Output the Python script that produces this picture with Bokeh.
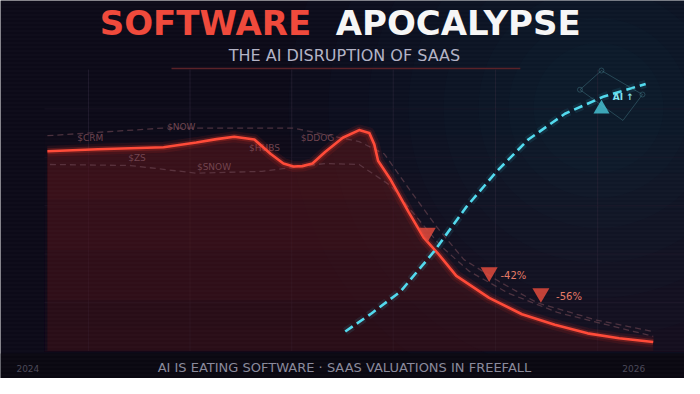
from bokeh.plotting import figure
from bokeh.models import Range1d
from bokeh.embed import file_html
from bokeh.resources import INLINE
from bokeh.core.properties import value

# ---------------- data (month index 0 = Jan 2024, 24 = end 2025; value = index) ----------------
saas_month = [0.0, 2.0, 4.6, 5.9, 6.7, 7.4, 8.2, 8.85, 9.35, 9.75, 10.1, 10.5, 11.0, 11.7, 12.35, 12.75,
              12.95, 13.1, 13.6, 14.3, 14.9, 15.45, 16.2, 17.5, 18.8, 20.1, 21.4, 22.65, 24.0]
saas_value = [99.0, 100.0, 101.0, 103.3, 105.0, 106.2, 104.8, 97.6, 92.9, 91.4, 91.6, 92.9, 98.6, 105.7, 109.5, 108.1,
              102.4, 94.3, 84.8, 69.0, 56.2, 48.6, 37.1, 26.2, 18.1, 12.9, 8.6, 6.2, 4.3]

ai_month = [11.8, 12.85, 14.0, 15.3, 16.6, 17.8, 19.05, 20.5, 22.05, 23.7]
ai_value = [9.5, 18.6, 29.5, 49.0, 71.4, 89.0, 104.8, 117.6, 126.2, 132.4]

ghost_a_month = [0.0, 4.6, 9.75, 12.35, 13.35, 14.4, 15.45, 16.5, 17.9, 19.4, 21.75, 24.0]
ghost_a_value = [106.7, 110.5, 110.5, 103.8, 97.6, 79.0, 61.0, 45.2, 34.3, 23.8, 15.2, 9.5]

ghost_b_month = [0.1, 3.3, 5.9, 8.5, 11.0, 12.35, 13.6, 14.6, 15.55, 16.7, 18.25, 20.2, 22.15, 24.0]
ghost_b_value = [92.4, 91.9, 88.1, 89.0, 92.9, 92.4, 81.9, 66.7, 52.4, 39.5, 28.6, 19.0, 12.9, 7.1]

ticker_labels = ["$CRM", "$NOW", "$ZS", "$SNOW", "$HUBS", "$DDOG"]
ticker_month = [1.7, 5.3, 3.55, 6.6, 8.6, 10.7]
ticker_value = [105.7, 111.0, 95.7, 91.4, 100.5, 105.7]

drop_month = [15.05, 17.5, 19.55]
drop_value = [58.6, 39.0, 28.6]
drop_labels = ["-42%", "-56%"]
drop_label_month = [17.95, 20.15]
drop_label_value = [37.1, 26.7]

ai_mark_month = [21.95]
ai_mark_value = [120.0]
ai_label = ["AI ↑"]
ai_label_month = [22.4]
ai_label_value = [125.7]

year_labels = ["2024", "2026"]

grid_months = [1.63, 5.65, 9.68, 13.7, 17.75, 21.8]
grid_values = [24, 48, 72, 96, 120]


# reference-pixel helpers for annotations
def mx(px):
    return (px - 48) * 24 / 620


def vy(py):
    return (365 - py) / 2.1


X0, X1 = mx(0), mx(700)
Y0, Y1 = vy(394), vy(0)

p = figure(width=684, height=378, output_backend="svg", toolbar_location=None,
           x_range=Range1d(X0, X1), y_range=Range1d(Y0, Y1), min_border=0,
           background_fill_color="#0c0a18", border_fill_color="#0c0a18")
p.axis.visible = False
p.grid.visible = False
p.outline_line_color = None

# background tints (layered soft bands)
for top in [140, 180, 220, 260, 300, 340]:
    p.quad(left=[mx(45)], right=[X1], bottom=[vy(366)], top=[vy(top)], fill_color="#2e0e1a",
           fill_alpha=0.07, line_color=None)
for s in [620, 540, 460, 380, 310, 240, 180, 130]:
    p.scatter([mx(612)], [vy(112)], size=s, fill_color="#1f5e70", fill_alpha=0.035, line_color=None)

# grid
p.segment(x0=grid_months, y0=[vy(365)] * len(grid_months), x1=grid_months, y1=[vy(72)] * len(grid_months),
          line_color="#2c2438", line_alpha=0.6, line_width=1)
p.segment(x0=[mx(45)] * len(grid_values), y0=grid_values, x1=[X1] * len(grid_values), y1=grid_values,
          line_color="#241c2e", line_alpha=0.5, line_width=1)

# fill under saas line (layered for a vertical fade)
p.varea(x=saas_month, y1=[0] * len(saas_month), y2=saas_value, fill_color="#3a1018", fill_alpha=0.55)
for lvl in [25, 50, 75]:
    p.varea(x=saas_month, y1=[min(lvl, v) for v in saas_value], y2=saas_value,
            fill_color="#5a1a20", fill_alpha=0.16)

# ghost ticker lines
p.line(ghost_a_month, ghost_a_value, line_color="#6a4450", line_width=1.3, line_dash="6 4", line_alpha=0.65)
p.line(ghost_b_month, ghost_b_value, line_color="#6a4450", line_width=1.3, line_dash="6 4", line_alpha=0.65)
p.text(ticker_month, ticker_value, text=ticker_labels, text_color="#7a4a55", text_font=value("DejaVu Sans"),
       text_font_size="9px", text_align="center", text_baseline="middle", text_alpha=0.9)

# saas line with glow
p.line(saas_month, saas_value, line_color="#ff3a2a", line_width=11, line_alpha=0.09, line_join="round")
p.line(saas_month, saas_value, line_color="#ff3a2a", line_width=6, line_alpha=0.2, line_join="round")
p.line(saas_month, saas_value, line_color="#ff4a38", line_width=2.6, line_join="round")

# AI line with glow
p.line(ai_month, ai_value, line_color="#3fd0e8", line_width=8, line_alpha=0.10, line_dash="9 5")
p.line(ai_month, ai_value, line_color="#52daee", line_width=2.6, line_dash="9 5")

# drop markers
p.scatter(drop_month, drop_value, marker="inverted_triangle", size=17, fill_color="#e24a3c",
          fill_alpha=0.85, line_color=None)
p.text(drop_label_month, drop_label_value, text=drop_labels, text_color="#e57a66",
       text_font=value("DejaVu Sans"), text_font_size="10px", text_align="left", text_baseline="middle")

# AI marker and frame
dx = [mx(615), mx(657), mx(637), mx(593)]
dy = [vy(73), vy(98), vy(125), vy(93)]
p.patch(dx, dy, fill_color=None, line_color="#4a8a96", line_alpha=0.4, line_width=1)
p.scatter([mx(593), mx(615), mx(657)], [vy(93), vy(73), vy(98)], size=5, fill_color=None,
          line_color="#4a8a96", line_alpha=0.4)
p.scatter(ai_mark_month, ai_mark_value, marker="triangle", size=16, fill_color="#45c0d0",
          fill_alpha=0.85, line_color=None)
p.text(ai_label_month, ai_label_value, text=ai_label, text_color="#7fe2f0", text_font=value("DejaVu Sans"),
       text_font_style="bold", text_font_size="9px", text_align="left", text_baseline="middle")

# bottom band
p.quad(left=[X0], right=[X1], bottom=[Y0], top=[vy(368)], fill_color="#0a0811", line_color=None)

# scanlines
p.quad(left=[X0], right=[X1], bottom=[Y0], top=[Y1], fill_alpha=0, line_color=None,
       hatch_pattern="horizontal_line", hatch_color="#ffffff", hatch_alpha=0.025, hatch_scale=4, hatch_weight=1)

# titles
p.text([mx(318)], [vy(23)], text=["SOFTWARE"], text_color="#f04a3c", text_font=value("DejaVu Sans"),
       text_font_style="bold", text_font_size="34px", text_align="right", text_baseline="middle")
p.text([mx(343)], [vy(23)], text=["APOCALYPSE"], text_color="#f6f6f6", text_font=value("DejaVu Sans"),
       text_font_style="bold", text_font_size="34px", text_align="left", text_baseline="middle")
p.text([mx(352)], [vy(57)], text=["THE AI DISRUPTION OF SAAS"], text_color="#b4b4c6",
       text_font=value("DejaVu Sans"), text_font_size="16px", text_align="center", text_baseline="middle")
p.segment(x0=[mx(175)], y0=[vy(71)], x1=[mx(532)], y1=[vy(71)], line_color="#5a2228", line_width=1.5)

# footer
p.text([mx(352)], [vy(383)], text=["AI IS EATING SOFTWARE · SAAS VALUATIONS IN FREEFALL"], text_color="#8a8a9c",
       text_font=value("DejaVu Sans"), text_font_size="13px", text_align="center", text_baseline="middle")
p.text([mx(28), mx(648)], [vy(384), vy(384)], text=year_labels, text_color="#4c4a5a",
       text_font=value("DejaVu Sans"), text_font_size="9px", text_align="center", text_baseline="middle")

open("out.html", "w").write(file_html(p, INLINE))
